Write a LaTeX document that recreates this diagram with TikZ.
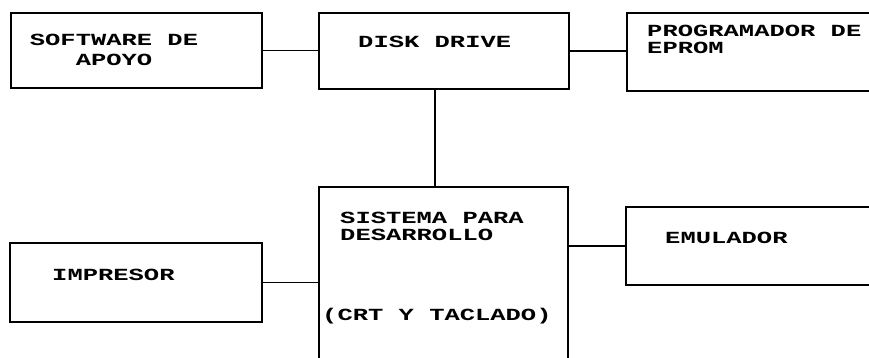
\documentclass[tikz,border=0pt]{standalone}
\usepackage{fontspec}
\newfontfamily\plotfont[FakeStretch=1.5]{Liberation Mono}
\tikzset{
  blk/.style={draw, line width=1.5pt, inner sep=0pt},
  lbl/.style={inner sep=0pt, anchor=base west, align=left,
    font=\plotfont\bfseries\fontsize{14.5}{17}\selectfont},
  link/.style={line width=1.5pt}
}

\begin{document}
\begin{tikzpicture}[x=0.03cm,y=-0.03cm]
\clip (0,0) rectangle (869,357);
% boxes
\node[blk, minimum width=7.53cm, minimum height=2.25cm] (soft) at (136.5,50.5) {};
\node[blk, minimum width=7.50cm, minimum height=2.28cm] (disk) at (444,51) {};
\node[blk, minimum width=7.59cm, minimum height=2.34cm] (prog) at (753.5,52) {};
\node[blk, minimum width=7.56cm, minimum height=2.37cm] (imp) at (136,282.5) {};
\node[blk, minimum width=7.47cm, minimum height=5.49cm] (sis) at (443.5,278.5) {};
\node[blk, minimum width=7.62cm, minimum height=2.34cm] (emu) at (753,246) {};
% texts (base = last line)
\node[lbl, anchor=base, align=center] (softtxt) at (114,65) {SOFTWARE DE\\APOYO};
\node[lbl] (disktxt) at (358,47) {DISK DRIVE};
\node[lbl, font=\plotfont\bfseries\fontsize{14.5}{14}\selectfont] (progtxt) at (647,53) {PROGRAMADOR DE\\EPROM};
\node[lbl] (imptxt) at (52,280) {IMPRESOR};
\node[lbl, font=\plotfont\bfseries\fontsize{14.5}{14.5}\selectfont] (sistxt) at (340,240) {SISTEMA PARA\\DESARROLLO};
\node[lbl] (crttxt) at (322,320) {(CRT Y TACLADO)};
\node[lbl] (emutxt) at (665,243) {EMULADOR};
% connections
\draw[link] (soft.east) -- (soft.east -| disk.west);
\draw[link] (disk.east) -- (disk.east -| prog.west);
\draw[link] ([xshift=-0.27cm]disk.south) -- ([xshift=-0.27cm]disk.south |- sis.north);
\draw[link] (imp.east) -- (imp.east -| sis.west);
\draw[link] (emu.west -| sis.east) -- (emu.west);
\end{tikzpicture}
\end{document}
